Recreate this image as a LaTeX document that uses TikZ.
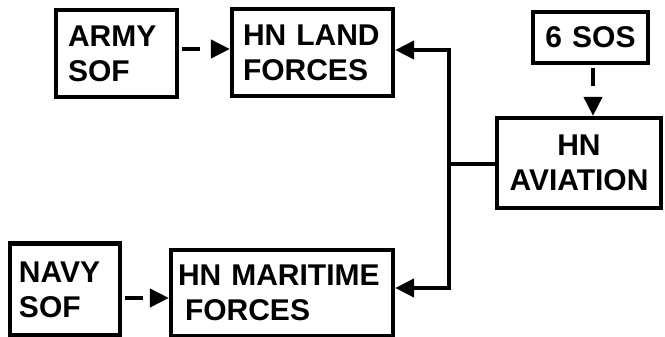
\documentclass[tikz,border=0pt]{standalone}
\usepackage{fontspec}
\setmainfont{Liberation Sans}
\usetikzlibrary{arrows.meta}
\begin{document}
\begin{tikzpicture}[x=1pt,y=1pt,
  box/.style={draw=black,line width=4.2pt,rectangle,align=left,
    font=\fontsize{30}{35}\selectfont\bfseries,inner ysep=0pt},
  conn/.style={line width=4pt,draw=black},
  head/.style={-{Triangle[length=19pt,width=18pt]}},
  dashconn/.style={conn,head,dash pattern=on 18pt off 12pt}]
\useasboundingbox (0,0) rectangle (665,-337);
\node[box,minimum height=87pt,inner xsep=12pt,text width=97pt] (army) at (116.5,-53.5) {ARMY\\SOF};
\node[box,minimum height=87pt,inner xsep=11pt,text width=139pt] (land) at (312.5,-52.5) {HN LAND\\FORCES};
\node[box,minimum height=51pt,inner xsep=4pt,text width=107pt,align=center] (sos) at (590.5,-37.5) {6 SOS};
\node[box,minimum height=90pt,inner xsep=4pt,text width=156pt,align=center] (avi) at (579,-163) {HN\\AVIATION};
\node[box,minimum height=92pt,inner xsep=9pt,text width=92pt] (navy) at (65,-289.5) {NAVY\\SOF};
\node[box,minimum height=86pt,inner xsep=7pt,text width=208pt] (mar) at (282,-293) {HN MARITIME\\\hspace*{7pt}FORCES};
\coordinate (jt) at (449,-50);
\coordinate (jb) at (449,-288);
\draw[dashconn] ([xshift=3pt]army.east |- 0,-49) -- (land.west |- 0,-49);
\draw[dashconn] ([xshift=3pt]navy.east |- 0,-298) -- (mar.west |- 0,-298);
\draw[dashconn] ([yshift=-3pt]sos.south -| 593,0) -- (avi.north -| 593,0);
\draw[conn] ([yshift=2pt]jt) -- ([yshift=-2pt]jb);
\draw[conn] (avi.west |- 0,-164) -- (449,-164);
\draw[conn,head] ([xshift=2pt]jt) -- (land.east |- jt);
\draw[conn,head] ([xshift=2pt]jb) -- (mar.east |- jb);
\end{tikzpicture}
\end{document}
